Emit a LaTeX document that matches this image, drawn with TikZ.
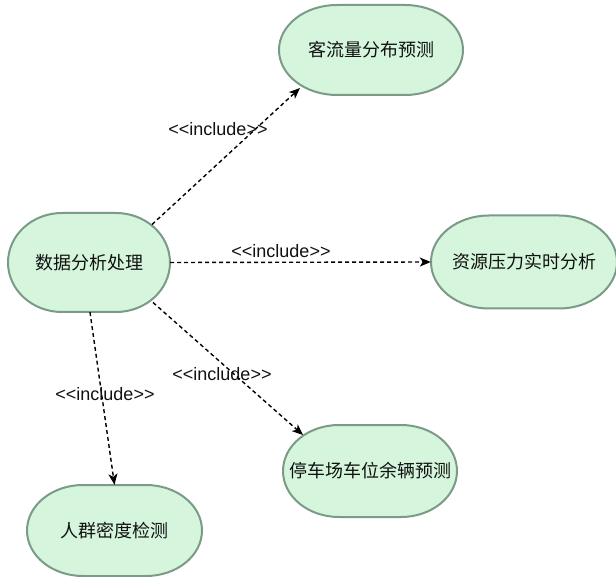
\documentclass[tikz,border=0pt]{standalone}
\usepackage{fontspec}
\setmainfont{Liberation Sans}[Ligatures=TeXOff]
\newfontfamily\cjkfont{Noto Sans CJK SC}
\usetikzlibrary{arrows.meta,calc}

\definecolor{casefill}{HTML}{D5F5DC}
\definecolor{caseline}{HTML}{7B9A87}
\definecolor{inktext}{HTML}{111111}

\tikzset{
  usecase/.style={inner sep=0pt, text=inktext,
    font=\cjkfont\fontsize{18}{22}\selectfont},
  casebody/.style={draw=caseline, fill=casefill, line width=2pt},
  includes/.style={draw=black, line width=1.4pt, dash pattern=on 4pt off 3pt,
    -{Stealth[length=11pt,width=9pt,inset=3pt]}},
  relname/.style={inner sep=0pt, text=inktext,
    font=\fontsize{18}{21}\selectfont},
}

% use-case outline: centre (#1,#2), width #3, height #4, end radius #5
\newcommand\caseoutline[5]{%
  \path[casebody]
    ({#1-#3/2+#5},{#2-#4/2})
    arc[start angle=270, end angle=90, x radius=#5, y radius=#4/2]
    -- ({#1+#3/2-#5},{#2+#4/2})
    arc[start angle=90, end angle=-90, x radius=#5, y radius=#4/2]
    -- cycle;}

\newcommand\incl{<<include>>}

\begin{document}
\begin{tikzpicture}[x=1pt,y=-1pt]
  \useasboundingbox (0,0) rectangle (616,577);

  % outlines of the use cases
  \caseoutline{89}{262.5}{162}{99}{54}
  \caseoutline{371}{50}{184}{90}{58}
  \caseoutline{524}{262}{186}{93}{58}
  \caseoutline{370}{471}{174}{92}{56}
  \caseoutline{114.5}{530.5}{175}{91}{56}

  % use cases
  \node[usecase, minimum width=162pt, minimum height=99pt] (A) at (89,262.5) {数据分析处理};
  \node[usecase, minimum width=184pt, minimum height=90pt] (B) at (371,50) {客流量分布预测};
  \node[usecase, minimum width=186pt, minimum height=93pt] (C) at (524,262) {资源压力实时分析};
  \node[usecase, minimum width=174pt, minimum height=92pt] (D) at (370,471) {停车场车位余辆预测};
  \node[usecase, minimum width=175pt, minimum height=91pt] (E) at (114.5,530.5) {人群密度检测};

  % include relations
  \draw[includes] ($(A)+(63,-38)$) -- ($(B)+(-71,38)$);
  \draw[includes] (A.east) -- (C.west);
  \draw[includes] ($(A)+(64,40)$) -- ($(D)+(-67,-36)$);
  \draw[includes] ($(A.south)+(1,0)$) -- (E.north);

  % relation labels
  \node[relname] (l1) at (218,129) {\incl};
  \node[relname] (l2) at (281,251) {\incl};
  \node[relname] (l3) at (222,374) {\incl};
  \node[relname] (l4) at (105,394) {\incl};
\end{tikzpicture}
\end{document}
